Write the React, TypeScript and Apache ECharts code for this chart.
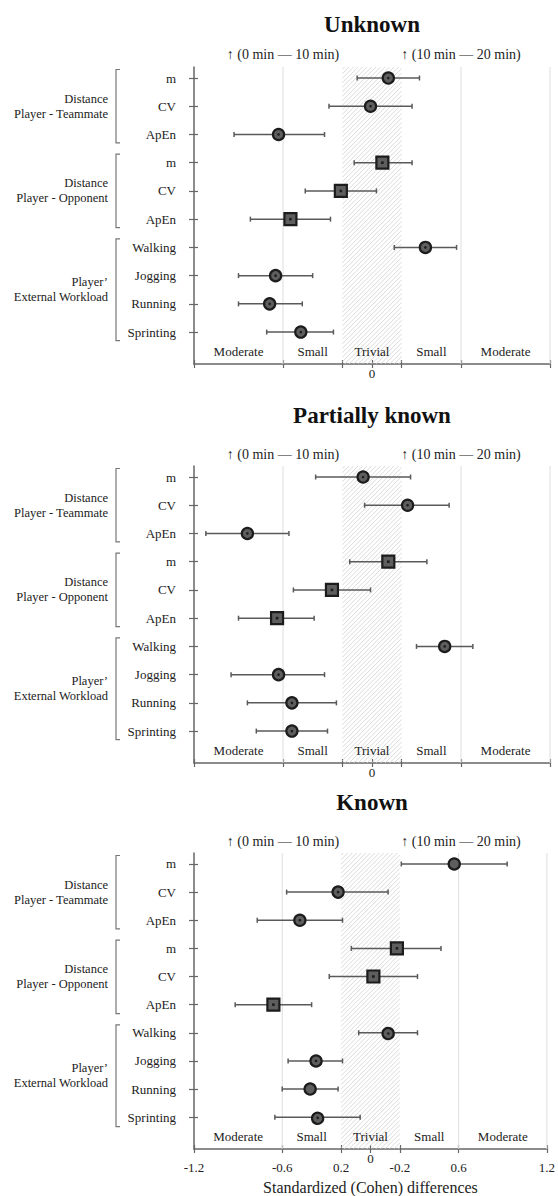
import React, { useEffect, useRef } from "react";
import * as echarts from "echarts";

// ---------------- data ----------------
const rowLabels = ["m", "CV", "ApEn", "m", "CV", "ApEn", "Walking", "Jogging", "Running", "Sprinting"];
const rowShapes = ["circle", "circle", "circle", "square", "square", "square", "circle", "circle", "circle", "circle"];
const groupNames = ["Distance\nPlayer - Teammate", "Distance\nPlayer - Opponent", "Player’\nExternal Workload"];
const groupRows = [[1, 3], [4, 6], [7, 10]];
const panelTitles = ["Unknown", "Partially known", "Known"];

const unknownMean = [0.11, -0.01, -0.63, 0.07, -0.21, -0.55, 0.36, -0.65, -0.69, -0.48];
const unknownLow = [-0.10, -0.29, -0.93, -0.12, -0.45, -0.82, 0.15, -0.90, -0.90, -0.71];
const unknownHigh = [0.32, 0.27, -0.32, 0.27, 0.03, -0.28, 0.57, -0.40, -0.47, -0.26];

const partialMean = [-0.06, 0.24, -0.84, 0.11, -0.27, -0.64, 0.49, -0.63, -0.54, -0.54];
const partialLow = [-0.38, -0.05, -1.12, -0.15, -0.53, -0.90, 0.30, -0.95, -0.84, -0.78];
const partialHigh = [0.26, 0.52, -0.56, 0.37, -0.01, -0.39, 0.68, -0.32, -0.24, -0.30];

const knownMean = [0.57, -0.22, -0.48, 0.18, 0.02, -0.66, 0.12, -0.37, -0.41, -0.36];
const knownLow = [0.21, -0.57, -0.77, -0.13, -0.28, -0.92, -0.08, -0.56, -0.60, -0.65];
const knownHigh = [0.93, 0.12, -0.19, 0.48, 0.32, -0.40, 0.32, -0.19, -0.22, -0.07];

const xTickValues = [-1.2, -0.6, -0.2, 0, 0.2, 0.6, 1.2];
const xTickLabels = ["-1.2", "-0.6", "0.2", "0", "-0.2", "0.6", "1.2"];
const gridLineValues = [-0.6, 0.6, 1.2];
const trivialBand = [-0.2, 0.2];
const effectCenters = [-0.9, -0.4, 0, 0.4, 0.9];
const effectNames = ["Moderate", "Small", "Trivial", "Small", "Moderate"];
const subtitleCenters = [-0.6, 0.6];
const subtitleTexts = ["↑ (0 min — 10 min)", "↑ (10 min — 20 min)"];
const xAxisName = "Standardized (Cohen) differences";

// ---------------- layout ----------------
const W = 558;
const H = 1196;
const gridLeft = 194;
const gridRight = 8;
const yMin = 0.61;
const yMax = 11.13;
const effectRowValue = 10.68;
const panelTops = [67, 466, 853];
const panelHeight = 297;
const titleY = [24, 415, 802];
const subtitleY = [54, 454, 841];
const FONT = "'Liberation Serif', 'DejaVu Serif', 'Times New Roman', serif";
const TEXT = "#222";
const AXIS = "#666";

const panels = [
  { mean: unknownMean, low: unknownLow, high: unknownHigh },
  { mean: partialMean, low: partialLow, high: partialHigh },
  { mean: knownMean, low: knownLow, high: knownHigh },
];

const plotW = W - gridLeft - gridRight;
const xPix = (v: number) => gridLeft + ((v + 1.2) / 2.4) * plotW;
const yPix = (p: number, v: number) => panelTops[p] + ((v - yMin) / (yMax - yMin)) * panelHeight;
const rowValues = rowLabels.map((_, i) => i + 1);

function renderHatch(params: any, api: any) {
  const cs = params.coordSys;
  const xa = api.coord([api.value(0), 1])[0];
  const xb = api.coord([api.value(1), 1])[0];
  const ya = cs.y;
  const yb = cs.y + cs.height;
  const step = 4.5;
  const children: any[] = [];
  for (let c = xa + ya + step / 2; c < xb + yb; c += step) {
    const sx = Math.max(xa, c - yb);
    const ex = Math.min(xb, c - ya);
    if (ex <= sx) continue;
    children.push({
      type: "line",
      shape: { x1: sx, y1: c - sx, x2: ex, y2: c - ex },
      style: { stroke: "#d2d2d2", lineWidth: 0.8 },
    });
  }
  return { type: "group", children, silent: true };
}

function renderGridLine(params: any, api: any) {
  const cs = params.coordSys;
  const x = api.coord([api.value(0), 1])[0];
  return {
    type: "line",
    shape: { x1: x, y1: cs.y, x2: x, y2: cs.y + cs.height },
    style: { stroke: "#dedede", lineWidth: 1 },
    silent: true,
  };
}

function renderErrorBar(params: any, api: any) {
  const row = api.value(0);
  const p1 = api.coord([api.value(1), row]);
  const p2 = api.coord([api.value(2), row]);
  const st = { stroke: "#5a5a5a", lineWidth: 1.5 };
  return {
    type: "group",
    children: [
      { type: "line", shape: { x1: p1[0], y1: p1[1], x2: p2[0], y2: p2[1] }, style: st },
      { type: "line", shape: { x1: p1[0], y1: p1[1] - 2.5, x2: p1[0], y2: p1[1] + 2.5 }, style: st },
      { type: "line", shape: { x1: p2[0], y1: p2[1] - 2.5, x2: p2[0], y2: p2[1] + 2.5 }, style: st },
    ],
  };
}

function renderMarker(params: any, api: any) {
  const p = api.coord([api.value(0), api.value(1)]);
  const shape = rowShapes[params.dataIndex];
  if (shape === "square") {
    return {
      type: "group",
      children: [
        { type: "rect", shape: { x: p[0] - 6, y: p[1] - 6, width: 12, height: 12 }, style: { fill: "#5e5e5e", stroke: "#1c1c1c", lineWidth: 2.2 } },
        { type: "rect", shape: { x: p[0] - 1.3, y: p[1] - 1.3, width: 2.6, height: 2.6 }, style: { fill: "#1c1c1c" } },
      ],
    };
  }
  return {
    type: "group",
    children: [
      { type: "circle", shape: { cx: p[0], cy: p[1], r: 5.6 }, style: { fill: "#5e5e5e", stroke: "#1c1c1c", lineWidth: 2.2 } },
      { type: "circle", shape: { cx: p[0], cy: p[1], r: 1.3 }, style: { fill: "#1c1c1c" } },
    ],
  };
}

function renderEffectLabel(params: any, api: any) {
  const p = api.coord([api.value(0), effectRowValue]);
  return {
    type: "text",
    x: p[0],
    y: p[1],
    style: {
      text: effectNames[params.dataIndex],
      fill: TEXT,
      fontFamily: FONT,
      fontSize: 13,
      align: "center",
      verticalAlign: "middle",
    },
    silent: true,
  };
}

function buildOption() {
  const grid: any[] = [];
  const xAxis: any[] = [];
  const yAxis: any[] = [];
  const series: any[] = [];
  const graphic: any[] = [];

  panels.forEach((pd, p) => {
    grid.push({ left: gridLeft, right: gridRight, top: panelTops[p], height: panelHeight });
    const xi = p * 2;
    xAxis.push({
      gridIndex: p,
      type: "value",
      position: "bottom",
      min: -1.2,
      max: 1.2,
      axisLine: { show: true, onZero: false, lineStyle: { color: AXIS, width: 1.5 } },
      axisTick: { show: true, customValues: xTickValues, length: 4, lineStyle: { color: AXIS, width: 1.2 } },
      axisLabel: {
        show: p === 2,
        customValues: xTickValues.filter((v) => v !== 0),
        formatter: (v: number) => xTickLabels[xTickValues.findIndex((t) => Math.abs(t - v) < 1e-6)],
        margin: 12,
        fontFamily: FONT,
        fontSize: 13,
        color: TEXT,
      },
      splitLine: { show: false },
      name: p === 2 ? xAxisName : "",
      nameLocation: "middle",
      nameGap: 30,
      nameTextStyle: { fontFamily: FONT, fontSize: 16, color: TEXT },
    });
    xAxis.push({
      gridIndex: p,
      type: "value",
      position: "bottom",
      min: -1.2,
      max: 1.2,
      axisLine: { show: false, onZero: false },
      axisTick: { show: true, inside: true, customValues: xTickValues, length: 4, lineStyle: { color: AXIS, width: 1.2 } },
      axisLabel: {
        show: true,
        customValues: [0],
        formatter: (v: number) => xTickLabels[xTickValues.findIndex((t) => Math.abs(t - v) < 1e-6)],
        margin: 3,
        fontFamily: FONT,
        fontSize: 13,
        color: TEXT,
      },
      splitLine: { show: false },
    });
    yAxis.push({
      gridIndex: p,
      type: "value",
      position: "left",
      inverse: true,
      min: yMin,
      max: yMax,
      axisLine: { show: true, onZero: false, lineStyle: { color: AXIS, width: 1.5 } },
      axisTick: { show: true, customValues: rowValues, length: 5, lineStyle: { color: AXIS, width: 1.2 } },
      axisLabel: {
        show: true,
        customValues: rowValues,
        formatter: (v: number) => rowLabels[Math.round(v) - 1] ?? "",
        margin: 18,
        fontFamily: FONT,
        fontSize: 13,
        color: TEXT,
      },
      splitLine: { show: false },
    });
    yAxis.push({
      gridIndex: p,
      type: "value",
      inverse: true,
      position: "left",
      min: yMin,
      max: yMax,
      axisLine: { show: false, onZero: false },
      axisTick: { show: true, inside: true, customValues: rowValues, length: 4, lineStyle: { color: AXIS, width: 1.2 } },
      axisLabel: { show: false },
      splitLine: { show: false },
    });

    series.push({
      type: "custom",
      xAxisIndex: xi,
      yAxisIndex: xi,
      renderItem: renderHatch,
      data: [trivialBand],
      encode: { x: [0, 1] },
      z: 1,
      silent: true,
    });
    series.push({
      type: "custom",
      xAxisIndex: xi,
      yAxisIndex: xi,
      renderItem: renderGridLine,
      data: gridLineValues.map((v) => [v]),
      encode: { x: 0 },
      z: 1,
      silent: true,
    });
    series.push({
      type: "custom",
      xAxisIndex: xi,
      yAxisIndex: xi,
      renderItem: renderEffectLabel,
      data: effectCenters.map((v) => [v]),
      encode: { x: 0 },
      z: 2,
      silent: true,
    });
    series.push({
      type: "custom",
      xAxisIndex: xi,
      yAxisIndex: xi,
      renderItem: renderErrorBar,
      data: rowValues.map((r, i) => [r, pd.low[i], pd.high[i]]),
      encode: { x: [1, 2], y: 0 },
      z: 3,
    });
    series.push({
      type: "custom",
      xAxisIndex: xi,
      yAxisIndex: xi,
      renderItem: renderMarker,
      data: rowValues.map((r, i) => [pd.mean[i], r]),
      encode: { x: 0, y: 1 },
      z: 4,
    });

    graphic.push({
      type: "text",
      x: xPix(0),
      y: titleY[p],
      style: {
        text: panelTitles[p],
        fill: "#111",
        fontFamily: FONT,
        fontSize: 23,
        fontWeight: "bold",
        align: "center",
        verticalAlign: "middle",
      },
    });
    subtitleTexts.forEach((t, k) => {
      graphic.push({
        type: "text",
        x: xPix(subtitleCenters[k]),
        y: subtitleY[p],
        style: { text: t, fill: TEXT, fontFamily: FONT, fontSize: 14, align: "center", verticalAlign: "middle" },
      });
    });
    groupRows.forEach((g, k) => {
      const ya = yPix(p, g[0]) - 8.5;
      const yb = yPix(p, g[1]) + 8.5;
      graphic.push({
        type: "polyline",
        shape: { points: [[120, ya], [116, ya], [116, yb], [120, yb]] },
        style: { stroke: "#777", lineWidth: 1.2, fill: null },
      });
      graphic.push({
        type: "text",
        x: 108,
        y: (yPix(p, g[0]) + yPix(p, g[1])) / 2,
        style: {
          text: groupNames[k],
          fill: TEXT,
          fontFamily: FONT,
          fontSize: 12.5,
          lineHeight: 15,
          align: "right",
          verticalAlign: "middle",
        },
      });
    });
  });

  return {
    animation: false,
    backgroundColor: "#fff",
    grid,
    xAxis,
    yAxis,
    series,
    graphic,
  };
}

export default function App() {
  const ref = useRef<HTMLDivElement>(null);
  useEffect(() => {
    document.body.style.margin = "0";
    if (!ref.current) return;
    const chart = echarts.init(ref.current, null, { renderer: "svg" });
    chart.setOption(buildOption() as any);
    return () => chart.dispose();
  }, []);
  return <div ref={ref} style={{ width: W, height: H }} />;
}
